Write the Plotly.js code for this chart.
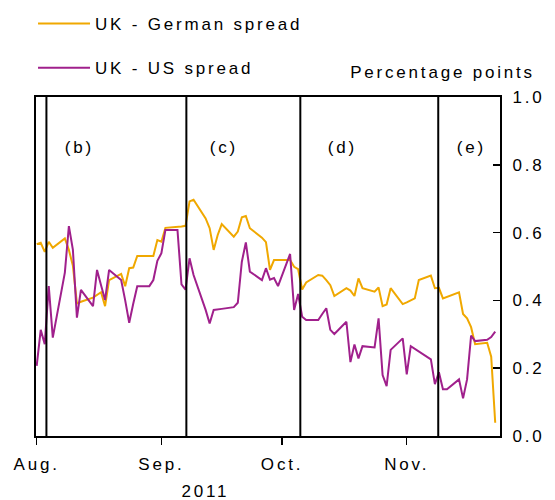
<!DOCTYPE html>
<html>
<head>
<meta charset="utf-8">
<script src="https://cdn.plot.ly/plotly-3.0.1.min.js"></script>
<style>
  html, body { margin: 0; padding: 0; background: #fff; }
  #chart { width: 555px; height: 500px; }
  #chart svg text { letter-spacing: 2.8px; }
  #chart .legend .scrollbox { clip-path: none !important; }
</style>
</head>
<body>
<div id="chart"></div>
<script>
// ---- Data ----
const dates = [
  '2011-08-01','2011-08-02','2011-08-03','2011-08-04','2011-08-05',
  '2011-08-08','2011-08-09','2011-08-10','2011-08-11','2011-08-12',
  '2011-08-15','2011-08-16','2011-08-17','2011-08-18','2011-08-19',
  '2011-08-22','2011-08-23','2011-08-24','2011-08-25','2011-08-26',
  '2011-08-29','2011-08-30','2011-08-31','2011-09-01','2011-09-02',
  '2011-09-05','2011-09-06','2011-09-07','2011-09-08','2011-09-09',
  '2011-09-12','2011-09-13','2011-09-14','2011-09-15','2011-09-16',
  '2011-09-19','2011-09-20','2011-09-21','2011-09-22','2011-09-23',
  '2011-09-26','2011-09-27','2011-09-28','2011-09-29','2011-09-30',
  '2011-10-03','2011-10-04','2011-10-05','2011-10-06','2011-10-07',
  '2011-10-10','2011-10-11','2011-10-12','2011-10-13','2011-10-14',
  '2011-10-17','2011-10-18','2011-10-19','2011-10-20','2011-10-21',
  '2011-10-24','2011-10-25','2011-10-26','2011-10-27','2011-10-28',
  '2011-10-31','2011-11-01','2011-11-02','2011-11-03','2011-11-04',
  '2011-11-07','2011-11-08','2011-11-09','2011-11-10','2011-11-11',
  '2011-11-14','2011-11-15','2011-11-16','2011-11-17','2011-11-18',
  '2011-11-21','2011-11-22','2011-11-23'
];

const ukGerman = [
  0.566,0.570,0.543,0.573,0.555,
  0.583,0.549,0.502,0.391,0.396,
  0.408,0.416,0.424,0.383,0.460,
  0.478,0.442,0.495,0.497,0.531,
  0.531,0.531,0.578,0.573,0.614,
  0.616,0.618,0.620,0.692,0.697,
  0.642,0.613,0.549,0.593,0.625,
  0.588,0.603,0.645,0.649,0.613,
  0.585,0.572,0.490,0.519,0.519,
  0.519,0.499,0.492,0.432,0.453,
  0.475,0.473,0.460,0.445,0.413,
  0.436,0.429,0.413,0.465,0.436,
  0.426,0.438,0.383,0.388,0.436,
  0.389,0.394,0.400,0.406,0.460,
  0.473,0.436,0.437,0.406,0.410,
  0.424,0.360,0.347,0.321,0.271,
  0.275,0.234,0.039
];

const ukUS = [
  0.207,0.313,0.271,0.442,0.290,
  0.482,0.619,0.549,0.349,0.431,
  0.383,0.490,0.445,0.401,0.490,
  0.460,0.400,0.334,0.390,0.442,
  0.442,0.460,0.517,0.539,0.608,
  0.608,0.447,0.432,0.524,0.475,
  0.372,0.332,0.372,0.373,0.375,
  0.380,0.393,0.514,0.571,0.485,
  0.460,0.495,0.461,0.466,0.442,
  0.537,0.372,0.419,0.352,0.342,
  0.342,0.360,0.377,0.313,0.301,
  0.337,0.218,0.270,0.229,0.265,
  0.261,0.347,0.180,0.147,0.254,
  0.288,0.182,0.265,0.257,0.250,
  0.226,0.153,0.188,0.138,0.138,
  0.167,0.111,0.167,0.296,0.280,
  0.284,0.292,0.308
];

const seriesNames = ['UK - German spread', 'UK - US spread'];

// Event lines and their panel labels
const eventDates = ['2011-08-03 10:00','2011-09-07 05:00','2011-10-05 13:00','2011-11-08 20:00'];
const panelLabels = ['(b)','(c)','(d)','(e)'];

// Axis ticks
const xTickVals = ['2011-08-01','2011-09-01','2011-10-01','2011-11-01'];
const xTickText = ['Aug.','Sep.','Oct.','Nov.'];
const yTickVals = [0, 0.2, 0.4, 0.6, 0.8, 1.0];
const xRange = ['2011-07-31 19:50','2011-11-24 04:30'];
const yRange = [0, 1];

// ---- Styling ----
const FONT = 'Arial, "Liberation Sans", sans-serif';
const ORANGE = '#F0A800';
const PURPLE = '#A0208C';

const traces = [
  { x: dates, y: ukGerman, name: seriesNames[0], type: 'scatter', mode: 'lines',
    line: { color: ORANGE, width: 2 }, legendgroup: 'g1', hoverinfo: 'skip' },
  { x: dates, y: ukUS, name: seriesNames[1], type: 'scatter', mode: 'lines',
    line: { color: PURPLE, width: 2 }, legendgroup: 'g2', hoverinfo: 'skip' }
];

const shapes = eventDates.map(d => ({
  type: 'line', xref: 'x', yref: 'paper', x0: d, x1: d, y0: 0, y1: 1,
  line: { color: '#000', width: 2 }, layer: 'above'
}));

const panelX = [0.0927, 0.405, 0.6616, 0.9375];
const annotations = panelLabels.map((t, i) => ({
  text: t, xref: 'paper', yref: 'paper', x: panelX[i], y: 0.8525,
  xanchor: 'center', yanchor: 'middle', showarrow: false,
  font: { family: FONT, size: 17, color: '#000' }
}));
annotations.push({
  text: 'Percentage points', xref: 'paper', yref: 'paper', x: 0.875, y: 1.0708,
  xanchor: 'center', yanchor: 'middle', showarrow: false,
  font: { family: FONT, size: 17, color: '#000' }
});
annotations.push({
  text: '2011', xref: 'paper', yref: 'paper', x: 0.365, y: -0.165,
  xanchor: 'center', yanchor: 'middle', showarrow: false,
  font: { family: FONT, size: 17, color: '#000' }
});

const layout = {
  width: 555, height: 500,
  margin: { l: 36, r: 55, t: 97, b: 64, pad: 0, autoexpand: false },
  paper_bgcolor: '#fff', plot_bgcolor: '#fff',
  font: { family: FONT, size: 17, color: '#000' },
  showlegend: true,
  legend: {
    xref: 'container', yref: 'container',
    x: 0.0595, y: 0.988, xanchor: 'left', yanchor: 'top',
    bgcolor: 'rgba(0,0,0,0)', borderwidth: 0,
    itemwidth: 52, tracegroupgap: 19, traceorder: 'grouped',
    font: { family: FONT, size: 17, color: '#000' }
  },
  xaxis: {
    type: 'date', range: xRange,
    tickmode: 'array', tickvals: xTickVals, ticktext: xTickText,
    ticks: 'outside', ticklen: 7, tickwidth: 1.5, tickcolor: '#000',
    ticklabelstandoff: 5,
    showline: true, linecolor: '#000', linewidth: 2, mirror: true,
    showgrid: false, zeroline: false, automargin: false,
    tickfont: { family: FONT, size: 17, color: '#000' }
  },
  yaxis: {
    side: 'right', range: yRange,
    tickmode: 'array', tickvals: yTickVals, tickformat: '.1f',
    ticks: 'inside', ticklen: 7, tickwidth: 1.5, tickcolor: '#000',
    ticklabelstandoff: 7,
    showline: true, linecolor: '#000', linewidth: 2, mirror: true,
    showgrid: false, zeroline: false, automargin: false,
    tickfont: { family: FONT, size: 17, color: '#000' }
  },
  shapes: shapes,
  annotations: annotations
};

Plotly.newPlot('chart', traces, layout, { staticPlot: true, displayModeBar: false });
</script>
</body>
</html>
